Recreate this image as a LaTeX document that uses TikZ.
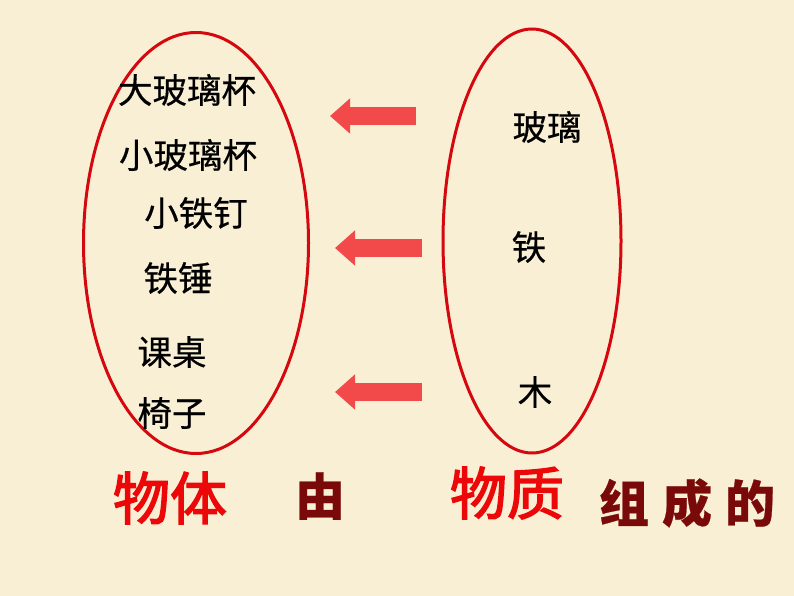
\documentclass[tikz,border=0pt]{standalone}
\usepackage{fontspec}
\newfontfamily\cjk[FakeBold=0.5]{Noto Sans CJK SC}
\newfontfamily\cjkheavy[FakeBold=2.5]{Noto Sans CJK SC}
\usetikzlibrary{shapes.geometric,arrows.meta}
\definecolor{paper}{RGB}{249,239,212}
\definecolor{ringred}{RGB}{212,8,14}
\definecolor{arrowred}{RGB}{242,74,74}
\definecolor{titlered}{RGB}{236,8,8}
\definecolor{darkred}{RGB}{122,10,10}
\tikzset{
  item/.style={font=\cjk\fontsize{34.5}{38}\selectfont, inner sep=0pt},
  ring/.style={draw=ringred, line width=3pt, ellipse, inner sep=0pt},
  blockarrow/.style={draw=arrowred, line width=18pt, -{Triangle[width=34pt,length=20pt]}},
  bigword/.style={font=\cjkheavy\fontsize{57}{60}\selectfont, text=titlered, inner sep=0pt},
  linkword/.style={font=\cjk\bfseries\fontsize{50}{54}\selectfont, text=darkred, inner sep=0pt}
}
\begin{document}
\begin{tikzpicture}[x=1pt, y=-1pt]
    % paper background
    \fill[paper] (0,0) rectangle (794,596);
    \useasboundingbox (0,0) rectangle (794,596);

    % the two groups
    \node[ring, minimum width=225pt, minimum height=421pt] (objects) at (196,243) {};
    \node[ring, minimum width=178pt, minimum height=424pt] (materials) at (532,241) {};

    % objects
    \node[item] (biggl) at (187,90) {大玻璃杯};
    \node[item] (smallgl) at (188,155) {小玻璃杯};
    \node[item] (nail) at (196,213) {小铁钉};
    \node[item] (hammer) at (178,278) {铁锤};
    \node[item] (desk) at (172,352) {课桌};
    \node[item] (chair) at (172,413) {椅子};

    % materials
    \node[item] (glass) at (547,127) {玻璃};
    \node[item] (iron) at (529,247) {铁};
    \node[item] (wood) at (535,392) {木};

    % arrows
    \coordinate (tail1) at (416,116);
    \coordinate (tip1) at (330,116);
    \coordinate (tail2) at (422,248);
    \coordinate (tip2) at (335,248);
    \coordinate (tail3) at (422,392);
    \coordinate (tip3) at (335,392);
    \draw[blockarrow] (tail1) -- (tip1);
    \draw[blockarrow] (tail2) -- (tip2);
    \draw[blockarrow] (tail3) -- (tip3);

    % sentence
    \node[bigword] (body) at (170,498) {物体};
    \node[linkword] (by) at (320,496) {由};
    \node[bigword] (matter) at (507,493) {物质};
    \node[linkword] (made) at (687,503) {组\hspace{13pt}成\hspace{13pt}的};
\end{tikzpicture}
\end{document}
